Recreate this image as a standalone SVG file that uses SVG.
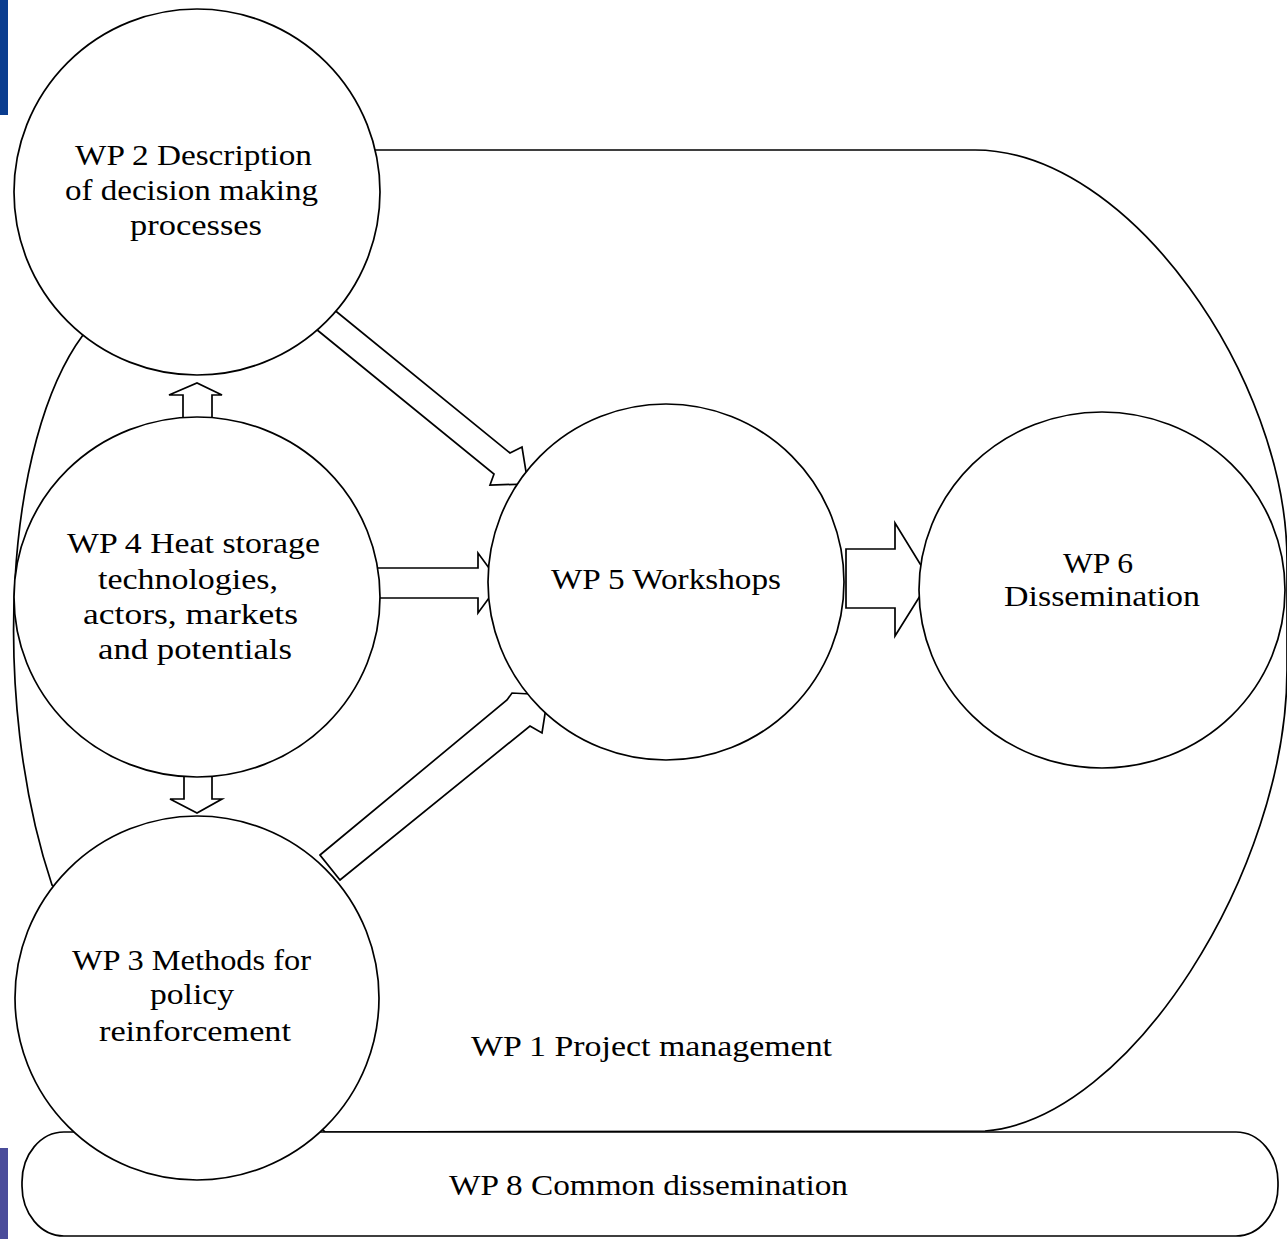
<svg xmlns="http://www.w3.org/2000/svg" width="1287" height="1239" viewBox="0 0 1287 1239">
<style>
.ln{fill:#fff;stroke:#000;stroke-width:1.7;stroke-linejoin:miter}
.nd{fill:#fff;stroke:#000;stroke-width:1.7}
.tx{font-family:"Liberation Serif","Times New Roman",serif;font-size:30px;fill:#000}
</style>
<rect x="0" y="0" width="1287" height="1239" fill="#fff"/>
<rect x="0" y="0" width="8" height="115" fill="#0a3d8f"/>
<rect x="0" y="1148" width="8" height="91" fill="#4a4c9a"/>

<g id="wp1">
<path class="ln" d="M52,885 C-10,700 5,440 83,335 L375,150 L975,150 C1130,150 1287,380 1287,560 L1287,670 C1287,870 1130,1120 985,1131 L325,1132 Z"/>
<text class="tx" x="471" y="1056" textLength="361" lengthAdjust="spacingAndGlyphs">WP 1 Project management</text>
</g>

<g id="wp8">
<rect class="nd" x="22" y="1132" width="1256" height="104" rx="42" ry="50"/>
<text class="tx" x="449" y="1195" textLength="399" lengthAdjust="spacingAndGlyphs">WP 8 Common dissemination</text>
</g>

<g id="connectors">
<polygon class="ln" points="183,420 183,395 169,395 197,383 222,395 212,395 212,420"/>
<polygon class="ln" points="184,775 212,775 212,799 222,799 197,813 170,799 184,799"/>
<polygon class="ln" points="370,568 478,568 478,553 500,583 478,613 478,598 370,598"/>
<polygon class="ln" points="846,549 895,549 895,523 930,580 895,636 895,608 846,608"/>
<polygon class="ln" points="316,295 510,453 522,447 528,484 490,485 494,474 300,316"/>
<polygon class="ln" points="320,855 507,700 512,693 548,695 542,733 530,726 340,880"/>
</g>

<g id="wp2">
<circle class="nd" cx="197" cy="192" r="183"/>
<text class="tx" x="75" y="165" textLength="237" lengthAdjust="spacingAndGlyphs">WP 2 Description</text>
<text class="tx" x="65" y="200" textLength="253" lengthAdjust="spacingAndGlyphs">of decision making</text>
<text class="tx" x="130" y="235" textLength="132" lengthAdjust="spacingAndGlyphs">processes</text>
</g>

<g id="wp4">
<ellipse class="nd" cx="197" cy="597" rx="183" ry="180"/>
<text class="tx" x="67" y="553" textLength="253" lengthAdjust="spacingAndGlyphs">WP 4 Heat storage</text>
<text class="tx" x="98" y="589" textLength="180" lengthAdjust="spacingAndGlyphs">technologies,</text>
<text class="tx" x="83" y="624" textLength="215" lengthAdjust="spacingAndGlyphs">actors, markets</text>
<text class="tx" x="98" y="659" textLength="194" lengthAdjust="spacingAndGlyphs">and potentials</text>
</g>

<g id="wp3">
<circle class="nd" cx="197" cy="998" r="182"/>
<text class="tx" x="72" y="970" textLength="239" lengthAdjust="spacingAndGlyphs">WP 3 Methods for</text>
<text class="tx" x="150" y="1004" textLength="84" lengthAdjust="spacingAndGlyphs">policy</text>
<text class="tx" x="99" y="1041" textLength="192" lengthAdjust="spacingAndGlyphs">reinforcement</text>
</g>

<g id="wp5">
<circle class="nd" cx="666" cy="582" r="178"/>
<text class="tx" x="551" y="589" textLength="230" lengthAdjust="spacingAndGlyphs">WP 5 Workshops</text>
</g>

<g id="wp6">
<ellipse class="nd" cx="1102" cy="590" rx="183" ry="178"/>
<text class="tx" x="1063" y="573" textLength="70" lengthAdjust="spacingAndGlyphs">WP 6</text>
<text class="tx" x="1004" y="606" textLength="196" lengthAdjust="spacingAndGlyphs">Dissemination</text>
</g>
</svg>
